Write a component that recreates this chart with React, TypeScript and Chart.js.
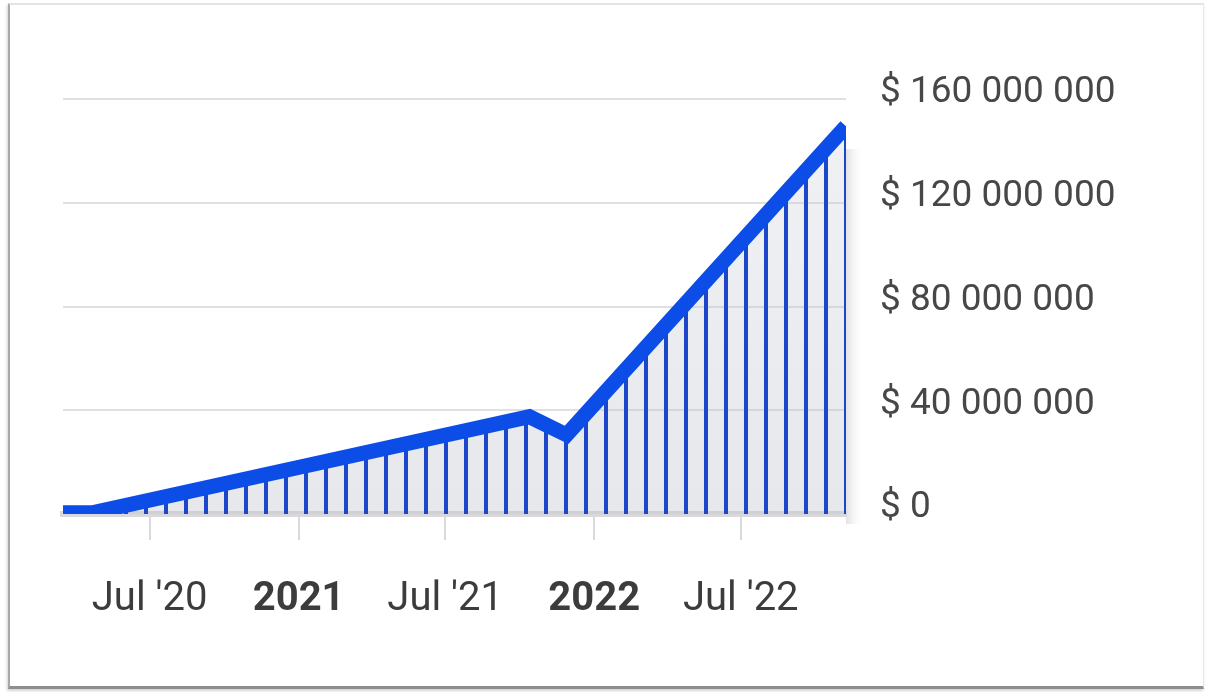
import React, { useEffect, useRef } from 'react';
import { Chart, registerables } from 'chart.js';

Chart.register(...registerables);

// Data
const pointDates = ['2020-03-16', '2020-04-21', '2021-10-13', '2021-11-28', '2022-11-08'];
const pointValues = [500000, 500000, 37500000, 30500000, 149500000];

const xTickDates = ['2020-07-01', '2021-01-01', '2021-07-01', '2022-01-01', '2022-07-01'];
const xTickLabels = ["Jul '20", '2021', "Jul '21", '2022', "Jul '22"];

const yTickValues = [0, 40000000, 80000000, 120000000, 160000000];
const yTickLabels = ['$ 0', '$ 40 000 000', '$ 80 000 000', '$ 120 000 000', '$ 160 000 000'];

const toDay = (s: string) => {
  const [y, m, d] = s.split('-').map(Number);
  return (Date.UTC(y, m - 1, d) - Date.UTC(2020, 0, 1)) / 86400000;
};

function makeHatch(height: number): CanvasPattern | string {
  const c = document.createElement('canvas');
  c.width = 20;
  c.height = height;
  const g = c.getContext('2d');
  if (!g) return '#eef0f4';
  const grad = g.createLinearGradient(0, 0, 0, height);
  grad.addColorStop(0, 'rgba(200,203,212,0.22)');
  grad.addColorStop(1, 'rgba(190,193,204,0.45)');
  g.fillStyle = grad;
  g.fillRect(0, 0, 20, height);
  g.fillStyle = '#1d47ca';
  g.fillRect(4, 0, 4, height);
  return g.createPattern(c, 'repeat') || '#eef0f4';
}

const shadowPlugin = {
  id: 'areaShadow',
  beforeDatasetsDraw(chart: any) {
    const { ctx, chartArea } = chart;
    const x0 = chartArea.right;
    const grad = ctx.createLinearGradient(x0, 0, x0 + 18, 0);
    grad.addColorStop(0, 'rgba(215,215,220,0.75)');
    grad.addColorStop(1, 'rgba(255,255,255,0)');
    ctx.save();
    ctx.fillStyle = grad;
    ctx.fillRect(x0, chartArea.top + 50, 18, chartArea.bottom - chartArea.top - 40);
    ctx.restore();
  },
};

export default function App() {
  const ref = useRef<HTMLCanvasElement>(null);

  useEffect(() => {
    const canvas = ref.current;
    if (!canvas) return;
    const hatch = makeHatch(692);
    const xTicks = xTickDates.map(toDay);
    const chart = new Chart(canvas, {
      type: 'line',
      data: {
        datasets: [
          {
            data: pointDates.map((d, i) => ({ x: toDay(d), y: pointValues[i] })),
            borderColor: '#0b4de6',
            borderWidth: 15,
            borderCapStyle: 'butt',
            borderJoinStyle: 'miter',
            backgroundColor: hatch as any,
            fill: 'origin',
            pointRadius: 0,
            tension: 0,
          },
        ],
      },
      options: {
        animation: false,
        responsive: false,
        maintainAspectRatio: false,
        events: [],
        layout: { padding: { left: 63, top: 99, right: 0, bottom: 0 } },
        plugins: { legend: { display: false }, tooltip: { enabled: false } },
        scales: {
          x: {
            type: 'linear',
            min: toDay(pointDates[0]),
            max: toDay(pointDates[pointDates.length - 1]),
            afterBuildTicks: (s: any) => {
              s.ticks = xTicks.map((v) => ({ value: v }));
            },
            afterFit: (s: any) => {
              s.height = 178;
            },
            grid: { drawOnChartArea: false, drawTicks: true, tickLength: 26, color: '#d9d9d9', lineWidth: 2 },
            border: { display: true, color: '#d9d9dc', width: 6 },
            ticks: {
              autoSkip: false,
              maxRotation: 0,
              padding: 36,
              color: '#3c3c3c',
              font: (c: any) => ({
                family: 'Roboto',
                size: 40,
                weight: /^\d{4}$/.test(xTickLabels[c.index] || '') ? 'bold' : 'normal',
              }),
              callback: (_v: any, i: number) => xTickLabels[i],
            },
          },
          y: {
            position: 'right',
            min: 0,
            max: 160000000,
            afterBuildTicks: (s: any) => {
              s.ticks = yTickValues.map((v) => ({ value: v }));
            },
            afterFit: (s: any) => {
              s.width = 360;
            },
            grid: { drawTicks: false, color: '#e0e0e0', lineWidth: 2 },
            border: { display: false },
            ticks: {
              padding: 34,
              labelOffset: -6,
              color: '#474747',
              font: { family: 'Roboto', size: 37 },
              callback: (_v: any, i: number) => yTickLabels[i],
            },
          },
        },
      },
      plugins: [shadowPlugin],
    });
    return () => chart.destroy();
  }, []);

  return (
    <div style={{ position: 'fixed', left: 0, top: 0, width: 1206, height: 692, background: '#fff', overflow: 'hidden' }}>
      <div
        style={{
          position: 'absolute',
          left: 8,
          top: 3,
          width: 1196,
          height: 686,
          borderLeft: '2px solid #a8a8a8',
          borderBottom: '3px solid #8e8e8e',
          borderTop: '2px solid #e4e4e4',
          borderRight: '1px solid #e8e8e8',
          boxShadow: '-1px 2px 3px rgba(0,0,0,0.18)',
          boxSizing: 'border-box',
        }}
      />
      <canvas ref={ref} width={1206} height={692} style={{ position: 'absolute', left: 0, top: 0, width: 1206, height: 692 }} />
    </div>
  );
}
